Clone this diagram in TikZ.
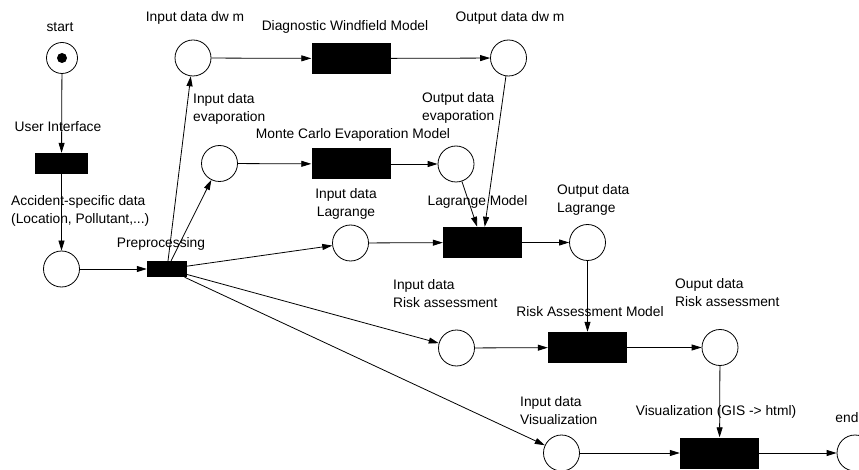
\documentclass[tikz,border=0pt]{standalone}
\usepackage{fontspec}
\setmainfont{Liberation Sans}
\usepackage{tikz}
\usetikzlibrary{arrows.meta,shapes,positioning,calc}

\tikzset{
    place/.style={circle, draw, line width=0.8pt, minimum size=36pt, inner sep=0pt},
    transition/.style={rectangle, fill=black, minimum width=79pt, minimum height=31pt, inner sep=0pt},
    lbl/.style={font=\fontsize{13.8}{18}\selectfont, inner sep=0pt},
    arc/.style={-{Triangle[length=10pt,width=6pt]}, line width=0.8pt}
}

\begin{document}
\begin{tikzpicture}[x=1pt, y=-1pt]
    \useasboundingbox (0,0) rectangle (859,470);

    % Places
    \node[place, minimum size=31pt] (start) at (62,58) {};
    \node[circle, fill=black, minimum size=10pt, inner sep=0pt] (token) at (start) {};
    \node[place] (accident) at (61.5,269) {};
    \node[place] (indwm) at (193,58) {};
    \node[place] (outdwm) at (508.5,58) {};
    \node[place] (inevap) at (219.5,163.5) {};
    \node[place] (outevap) at (456,164) {};
    \node[place] (inlag) at (350.5,243) {};
    \node[place] (outlag) at (587.5,242.5) {};
    \node[place] (inrisk) at (456.5,348) {};
    \node[place] (outrisk) at (720,347.5) {};
    \node[place] (invis) at (561.5,453) {};
    \node[place] (finish) at (855,453) {};

    % Transitions
    \node[transition, minimum width=53pt, minimum height=21pt] (ui) at (61.5,163.5) {};
    \node[transition, minimum width=40pt, minimum height=16pt] (prep) at (167,269) {};
    \node[transition] (dwm) at (351,58.5) {};
    \node[transition] (mce) at (351,164) {};
    \node[transition] (lag) at (482.5,242.5) {};
    \node[transition] (risk) at (587.5,347.5) {};
    \node[transition] (vis) at (719.5,453) {};

    % Labels
    \node[lbl] (l-start) at (60,27) {start};
    \node[lbl] (l-ui) at (58,127) {User Interface};
    \node[lbl, anchor=west, align=left] (l-accident) at (11,211) {Accident-specific data\\(Location, Pollutant,...)};
    \node[lbl] (l-prep) at (161,244) {Preprocessing};
    \node[lbl] (l-indwm) at (195,18) {Input data dw m};
    \node[lbl] (l-dwm) at (345,27) {Diagnostic Windfield Model};
    \node[lbl] (l-outdwm) at (510,18) {Output data dw m};
    \node[lbl, anchor=west, align=left] (l-inevap) at (193,109) {Input data\\evaporation};
    \node[lbl] (l-mce) at (353,135) {Monte Carlo Evaporation Model};
    \node[lbl, anchor=west, align=left] (l-outevap) at (422,107.5) {Output data\\evaporation};
    \node[lbl, align=center] (l-inlag) at (346,203.5) {Input data\\Lagrange};
    \node[lbl] (l-lag) at (477.5,202) {Lagrange Model};
    \node[lbl, anchor=west, align=left] (l-outlag) at (557,199.5) {Output data\\Lagrange};
    \node[lbl, anchor=west, align=left] (l-inrisk) at (393,294) {Input data\\Risk assessment};
    \node[lbl] (l-risk) at (590,312) {Risk Assessment Model};
    \node[lbl, anchor=west, align=left] (l-outrisk) at (675,293) {Ouput data\\Risk assessment};
    \node[lbl, anchor=west, align=left] (l-invis) at (520,411) {Input data\\Visualization};
    \node[lbl] (l-vis) at (716,412) {Visualization (GIS -> html)};
    \node[lbl] (l-finish) at (847,418) {end};

    % Arcs
    \draw[arc] (start) -- (ui);
    \draw[arc] (ui) -- (accident);
    \draw[arc] (accident) -- (prep);
    \draw[arc] (prep) -- (indwm);
    \draw[arc] (prep) -- (inevap);
    \draw[arc] (prep) -- (inlag);
    \draw[arc] (prep) -- (inrisk);
    \draw[arc] (prep) -- (invis);
    \draw[arc] (indwm) -- (dwm);
    \draw[arc] (dwm) -- (outdwm);
    \draw[arc] (inevap) -- (mce);
    \draw[arc] (mce) -- (outevap);
    \draw[arc] (outevap) -- (lag);
    \draw[arc] (outdwm) -- (lag);
    \draw[arc] (inlag) -- (lag);
    \draw[arc] (lag) -- (outlag);
    \draw[arc] (outlag) -- (risk);
    \draw[arc] (inrisk) -- (risk);
    \draw[arc] (risk) -- (outrisk);
    \draw[arc] (outrisk) -- (vis);
    \draw[arc] (invis) -- (vis);
    \draw[arc] (vis) -- (finish);
\end{tikzpicture}
\end{document}
